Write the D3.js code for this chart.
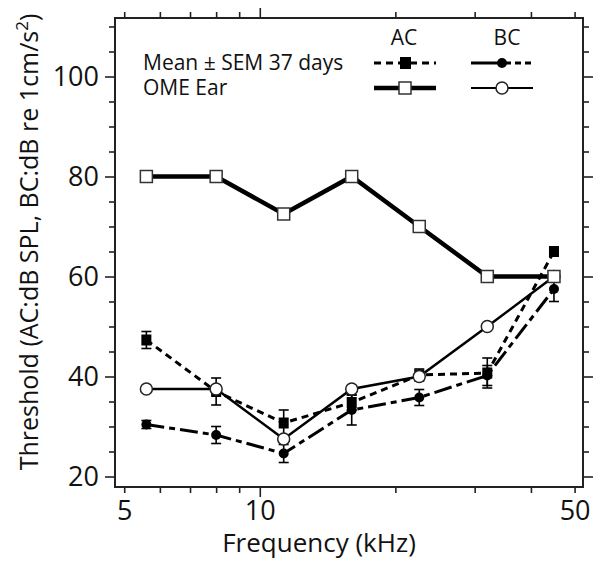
<!DOCTYPE html>
<html>
<head>
<meta charset="utf-8">
<script src="https://cdn.jsdelivr.net/npm/d3@7"></script>
<style>
  body { margin: 0; background: #fff; }
  svg { font-family: "Open Sans", sans-serif; }
</style>
</head>
<body>
<svg id="chart" width="601" height="564"></svg>
<script>
// frequencies (kHz), half-octave steps
const freqs = [5.6, 8, 11.3, 16, 22.6, 32, 45];

// Mean ± SEM, 37 days
const acMean = [47.3, 37.0, 30.7, 34.8, 40.3, 40.7, 65.0];
const acSem  = [1.7, 2.7, 2.6, 1.5, 1.2, 3.0, 0.8];
const bcMean = [30.4, 28.3, 24.6, 33.3, 35.8, 40.2, 57.5];
const bcSem  = [0.8, 1.7, 1.8, 3.0, 1.6, 2.0, 2.5];

// OME ear
const omeAc = [80, 80, 72.5, 80, 70, 60, 60];
const omeBc = [37.5, 37.5, 27.5, 37.5, 40, 50, 60];

const xTicks = [5, 6, 7, 8, 9, 10, 20, 30, 40, 50];
const xLabels = [5, 10, 50];
const yTicks = d3.range(20, 111, 5);
const yLabels = [20, 40, 60, 80, 100];

function draw() {
  const svg = d3.select("#chart");
  const left = 115, right = 583, top = 18, bottom = 487;

  const x = d3.scaleLog().domain([4.77, 52.2]).range([left, right]);
  const y = d3.scaleLinear().domain([17.9, 111.7]).range([bottom, top]);

  const axisColor = "#222";

  function styleAxis(g, majors, horizontal) {
    g.select(".domain").remove();
    g.selectAll(".tick line")
      .attr("stroke", axisColor)
      .attr("stroke-width", 1.6)
      .each(function(d) {
        const len = majors.includes(d) ? 10 : 6;
        const el = d3.select(this);
        if (horizontal) el.attr("y2", +el.attr("y2") < 0 ? -len : len);
        else el.attr("x2", +el.attr("x2") < 0 ? -len : len);
      });
    g.selectAll(".tick text").attr("fill", "#111");
  }

  // bottom axis with labels
  const gx = svg.append("g")
    .attr("transform", `translate(0,${bottom})`)
    .call(d3.axisBottom(x).tickValues(xTicks).tickSize(6).tickPadding(8)
      .tickFormat(d => xLabels.includes(d) ? d : ""));
  styleAxis(gx, [10], true);
  gx.selectAll(".tick text").attr("font-size", 27).attr("font-family", "Open Sans");

  const gxt = svg.append("g")
    .attr("transform", `translate(0,${top})`)
    .call(d3.axisTop(x).tickValues(xTicks).tickSize(6).tickFormat(""));
  styleAxis(gxt, [10], true);

  const gy = svg.append("g")
    .attr("transform", `translate(${left},0)`)
    .call(d3.axisLeft(y).tickValues(yTicks).tickSize(6).tickPadding(10)
      .tickFormat(d => yLabels.includes(d) ? d : ""));
  styleAxis(gy, yLabels, false);
  gy.selectAll(".tick text").attr("font-size", 27).attr("font-family", "Open Sans");

  const gyr = svg.append("g")
    .attr("transform", `translate(${right},0)`)
    .call(d3.axisRight(y).tickValues(yTicks).tickSize(6).tickFormat(""));
  styleAxis(gyr, yLabels, false);

  svg.append("rect")
    .attr("x", left).attr("y", top)
    .attr("width", right - left).attr("height", bottom - top)
    .attr("fill", "none").attr("stroke", axisColor).attr("stroke-width", 2);

  // axis titles
  svg.append("text")
    .attr("x", 319).attr("y", 552)
    .attr("text-anchor", "middle")
    .attr("font-size", 26)
    .attr("fill", "#111")
    .text("Frequency (kHz)");

  const yt = svg.append("text")
    .attr("transform", "translate(38,242) rotate(-90)")
    .attr("text-anchor", "middle")
    .attr("font-size", 25)
    .attr("fill", "#111");
  yt.append("tspan").text("Threshold (AC:dB SPL, BC:dB re 1cm/s");
  yt.append("tspan").attr("dy", -10).attr("font-size", 17).text("2");
  yt.append("tspan").attr("dy", 10).text(")");

  const line = vals => d3.line()
    .x((d, i) => x(freqs[i]))
    .y(d => y(d))(vals);

  const plot = svg.append("g");

  // mean series: lines
  plot.append("path").attr("d", line(bcMean))
    .attr("fill", "none").attr("stroke", "#000").attr("stroke-width", 3)
    .attr("stroke-dasharray", "18,5,6,5");
  plot.append("path").attr("d", line(acMean))
    .attr("fill", "none").attr("stroke", "#000").attr("stroke-width", 3)
    .attr("stroke-dasharray", "7,5");

  // error bars
  function errorBars(means, sems) {
    const g = plot.append("g").attr("stroke", "#000").attr("stroke-width", 1.6);
    means.forEach((m, i) => {
      const cx = x(freqs[i]);
      const y0 = y(m - sems[i]), y1 = y(m + sems[i]);
      g.append("line").attr("x1", cx).attr("x2", cx).attr("y1", y0).attr("y2", y1);
      g.append("line").attr("x1", cx - 5).attr("x2", cx + 5).attr("y1", y0).attr("y2", y0);
      g.append("line").attr("x1", cx - 5).attr("x2", cx + 5).attr("y1", y1).attr("y2", y1);
    });
  }
  errorBars(bcMean, bcSem);
  errorBars(acMean, acSem);

  plot.selectAll(".bcm").data(bcMean).enter().append("circle")
    .attr("cx", (d, i) => x(freqs[i])).attr("cy", d => y(d))
    .attr("r", 5).attr("fill", "#000");
  plot.selectAll(".acm").data(acMean).enter().append("rect")
    .attr("x", (d, i) => x(freqs[i]) - 5).attr("y", d => y(d) - 5.5)
    .attr("width", 10).attr("height", 11).attr("fill", "#000");

  // OME ear series
  plot.append("path").attr("d", line(omeBc))
    .attr("fill", "none").attr("stroke", "#000").attr("stroke-width", 2.5);
  plot.append("path").attr("d", line(omeAc))
    .attr("fill", "none").attr("stroke", "#000").attr("stroke-width", 4.5);

  plot.selectAll(".bco").data(omeBc).enter().append("circle")
    .attr("cx", (d, i) => x(freqs[i])).attr("cy", d => y(d))
    .attr("r", 6).attr("fill", "#fff").attr("stroke", "#222").attr("stroke-width", 1.5);
  plot.selectAll(".aco").data(omeAc).enter().append("rect")
    .attr("x", (d, i) => x(freqs[i]) - 6).attr("y", d => y(d) - 6)
    .attr("width", 12).attr("height", 12)
    .attr("fill", "#fff").attr("stroke", "#333").attr("stroke-width", 1.5);

  // legend
  const lg = svg.append("g").attr("fill", "#111").attr("font-size", 21);
  lg.append("text").attr("x", 143).attr("y", 70).text("Mean \u00b1 SEM 37 days");
  lg.append("text").attr("x", 143).attr("y", 95).text("OME Ear");
  lg.append("text").attr("x", 404).attr("y", 45).attr("text-anchor", "middle").text("AC");
  lg.append("text").attr("x", 507).attr("y", 45).attr("text-anchor", "middle").text("BC");

  const r1 = 63, r2 = 88;
  lg.append("line").attr("x1", 374).attr("x2", 436).attr("y1", r1).attr("y2", r1)
    .attr("stroke", "#000").attr("stroke-width", 3).attr("stroke-dasharray", "7,5");
  lg.append("rect").attr("x", 400).attr("y", r1 - 6).attr("width", 11).attr("height", 12).attr("fill", "#000");

  lg.append("line").attr("x1", 374).attr("x2", 436).attr("y1", r2).attr("y2", r2)
    .attr("stroke", "#000").attr("stroke-width", 4.5);
  lg.append("rect").attr("x", 399).attr("y", r2 - 6).attr("width", 12).attr("height", 12)
    .attr("fill", "#fff").attr("stroke", "#333").attr("stroke-width", 1.5);

  lg.append("line").attr("x1", 471).attr("x2", 502).attr("y1", r1).attr("y2", r1)
    .attr("stroke", "#000").attr("stroke-width", 3);
  lg.append("line").attr("x1", 502).attr("x2", 533).attr("y1", r1).attr("y2", r1)
    .attr("stroke", "#000").attr("stroke-width", 3).attr("stroke-dasharray", "6,4").attr("stroke-dashoffset", -3);
  lg.append("circle").attr("cx", 502).attr("cy", r1).attr("r", 5).attr("fill", "#000");

  lg.append("line").attr("x1", 471).attr("x2", 533).attr("y1", r2).attr("y2", r2)
    .attr("stroke", "#000").attr("stroke-width", 2.2);
  lg.append("circle").attr("cx", 502).attr("cy", r2).attr("r", 6)
    .attr("fill", "#fff").attr("stroke", "#222").attr("stroke-width", 1.5);
}

draw();
</script>
</body>
</html>
